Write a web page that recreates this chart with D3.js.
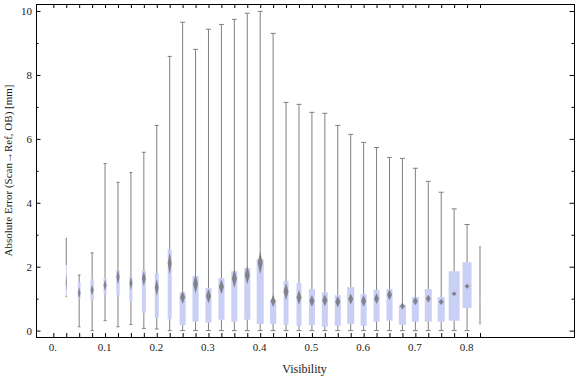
<!DOCTYPE html>
<html>
<head>
<meta charset="utf-8">
<script src="https://cdn.jsdelivr.net/npm/d3@7"></script>
<style>
  body { margin: 0; background: #fff; }
  text { font-family: "Liberation Serif", "Times New Roman", serif; }
</style>
</head>
<body>
<div id="chart"></div>
<script>
// visibility bins (box centres)
const visibility = [0.025, 0.05, 0.075, 0.1, 0.125, 0.15, 0.175, 0.2, 0.225, 0.25, 0.275,
  0.3, 0.325, 0.35, 0.375, 0.4, 0.425, 0.45, 0.475, 0.5, 0.525, 0.55, 0.575,
  0.6, 0.625, 0.65, 0.675, 0.7, 0.725, 0.75, 0.775, 0.8, 0.825];

// box-whisker statistics per bin [mm]
const whiskerLow = [1.06, 0.12, 0.00, 0.31, 0.12, 0.19, 0.07, 0.05, 0.00, 0.00, 0.00,
  0.00, 0.00, 0.00, 0.00, 0.00, 0.00, 0.00, 0.00, 0.00, 0.00, 0.00, 0.00,
  0.00, 0.00, 0.00, 0.00, 0.00, 0.00, 0.00, 0.00, 0.00, 0.21];
const quart1 = [1.10, 1.00, 0.95, 1.14, 1.11, 0.90, 0.56, 0.40, 0.36, 0.18, 0.28,
  0.25, 0.34, 0.28, 0.34, 0.21, 0.21, 0.18, 0.15, 0.18, 0.12, 0.15, 0.21,
  0.15, 0.28, 0.31, 0.18, 0.28, 0.28, 0.28, 0.31, 0.71, 0.87];
const median = [1.50, 1.18, 1.27, 1.42, 1.68, 1.48, 1.63, 1.35, 2.10, 1.04, 1.46,
  1.08, 1.37, 1.63, 1.74, 2.12, 0.93, 1.22, 1.04, 0.93, 0.95, 0.90, 0.99,
  0.93, 1.00, 1.12, 0.77, 0.92, 1.00, 0.90, 1.15, 1.39, 0.94];
const quart3 = [2.05, 1.52, 1.61, 1.64, 1.89, 1.70, 1.89, 1.80, 2.54, 1.20, 1.71,
  1.33, 1.64, 1.86, 1.96, 2.24, 0.95, 1.55, 1.49, 1.30, 1.20, 1.11, 1.36,
  1.14, 1.27, 1.30, 0.80, 1.05, 1.30, 1.05, 1.86, 2.14, 1.00];
const whiskerHigh = [2.89, 1.74, 2.43, 5.23, 4.64, 4.95, 5.58, 6.42, 8.58, 9.65, 8.80,
  9.43, 9.58, 9.74, 9.93, 9.99, 9.30, 7.14, 7.08, 6.83, 6.80, 6.42, 6.14,
  5.89, 5.73, 5.42, 5.39, 5.08, 4.67, 4.33, 3.81, 3.32, 2.63];
// relative sample weight (drives box width)
const sampleWeight = [0.09, 0.25, 0.30, 0.27, 0.30, 0.27, 0.36, 0.36, 0.36, 0.55, 0.55,
  0.55, 0.55, 0.55, 0.55, 0.64, 0.57, 0.45, 0.45, 0.55, 0.55, 0.55, 0.64,
  0.55, 0.55, 0.55, 0.64, 0.64, 0.64, 0.64, 1.00, 0.82, 0.09];
// half width of the median confidence diamond [mm]
const medianCI = [0.30, 0.18, 0.16, 0.18, 0.23, 0.21, 0.23, 0.26, 0.34, 0.21, 0.29,
  0.23, 0.23, 0.29, 0.29, 0.36, 0.19, 0.26, 0.23, 0.18, 0.19, 0.18, 0.17,
  0.18, 0.17, 0.17, 0.11, 0.13, 0.12, 0.10, 0.07, 0.08, 0.10];

const xLabelTicks = [0, 0.1, 0.2, 0.3, 0.4, 0.5, 0.6, 0.7, 0.8];
const yMajorTicks = [0, 2, 4, 6, 8, 10];
const yMinorTicks = [1, 3, 5, 7, 9];

const width = 576, height = 377;
const frame = { left: 36, right: 575, top: 4, bottom: 337 };

const svg = d3.select("#chart").append("svg")
  .attr("width", width)
  .attr("height", height);

const defs = svg.append("defs");
defs.append("filter").attr("id", "soft")
  .attr("x", "-80%").attr("y", "-50%").attr("width", "260%").attr("height", "200%")
  .append("feGaussianBlur").attr("stdDeviation", 0.5);

const x = d3.scaleLinear().domain([-0.0335, 1.0087]).range([frame.left, frame.right]);
const y = d3.scaleLinear().domain([-0.2, 10.22]).range([frame.bottom, frame.top]);
const w = d3.scaleLinear().domain([0, 1]).range([0, 11]);

const data = visibility.map((v, i) => ({
  v, lo: whiskerLow[i], q1: quart1[i], med: median[i], q3: quart3[i],
  hi: whiskerHigh[i], wt: sampleWeight[i], ci: medianCI[i]
}));

const g = svg.append("g");

// boxes
g.selectAll(".box").data(data).enter().append("rect")
  .attr("class", "box")
  .attr("x", d => x(d.v) - w(d.wt) / 2)
  .attr("width", d => w(d.wt))
  .attr("y", d => y(d.q3))
  .attr("height", d => y(d.q1) - y(d.q3))
  .attr("fill", "#c9cff5");

// whiskers
const whisk = g.selectAll(".whisk").data(data).enter().append("g").attr("class", "whisk")
  .attr("stroke", "#808080").attr("stroke-width", 1);
whisk.append("line")
  .attr("x1", d => x(d.v)).attr("x2", d => x(d.v))
  .attr("y1", d => y(d.q3)).attr("y2", d => y(d.hi));
whisk.append("line")
  .attr("x1", d => x(d.v)).attr("x2", d => x(d.v))
  .attr("y1", d => y(d.q1)).attr("y2", d => y(d.lo));
// caps
[d => d.hi, d => d.lo].forEach(acc => {
  whisk.append("line")
    .attr("x1", d => x(d.v) - Math.min(w(d.wt), 5) / 2)
    .attr("x2", d => x(d.v) + Math.min(w(d.wt), 5) / 2)
    .attr("y1", d => y(acc(d))).attr("y2", d => y(acc(d)));
});

// median diamonds (width follows the box, at most 5px)
g.selectAll(".med").data(data).enter().append("path")
  .attr("class", "med")
  .attr("d", d => {
    const cx = x(d.v), cy = y(d.med), dy = y(d.med - d.ci) - cy;
    const dx = Math.min(w(d.wt), 5) / 2;
    return `M${cx},${cy - dy}L${cx + dx},${cy}L${cx},${cy + dy}L${cx - dx},${cy}Z`;
  })
  .attr("fill", "#707070")
  .attr("opacity", 0.8)
  .attr("filter", "url(#soft)");

// frame
svg.append("rect")
  .attr("x", frame.left + 0.5).attr("y", frame.top + 0.5)
  .attr("width", frame.right - frame.left - 1).attr("height", frame.bottom - frame.top)
  .attr("fill", "none").attr("stroke", "#000").attr("stroke-width", 1);

const xTickVals = [0].concat(visibility);
const fmtX = d => d === 0 ? "0." : d3.format(".1f")(d);

function noDomain(sel) { sel.select(".domain").remove(); }

// bottom ticks + labels
svg.append("g").attr("transform", `translate(0,${frame.bottom})`)
  .call(d3.axisBottom(x).tickValues(xTickVals).tickSize(-4).tickFormat(""))
  .call(noDomain);
svg.append("g").attr("transform", `translate(0,${frame.bottom})`)
  .call(d3.axisBottom(x).tickValues(xLabelTicks).tickSize(0).tickPadding(6).tickFormat(fmtX))
  .call(noDomain)
  .call(s => s.selectAll("text").attr("font-size", 11).attr("fill", "#1a1a1a")
    .attr("font-family", "Liberation Serif").attr("dx", -1));
// top ticks
svg.append("g").attr("transform", `translate(0,${frame.top})`)
  .call(d3.axisTop(x).tickValues(xTickVals).tickSize(-4).tickFormat(""))
  .call(noDomain);

// left ticks + labels
svg.append("g").attr("transform", `translate(${frame.left},0)`)
  .call(d3.axisLeft(y).tickValues(yMajorTicks).tickSize(-4.5).tickPadding(4).tickFormat(d3.format("d")))
  .call(noDomain)
  .call(s => s.selectAll("text").attr("font-size", 11).attr("fill", "#1a1a1a")
    .attr("font-family", "Liberation Serif"));
svg.append("g").attr("transform", `translate(${frame.left},0)`)
  .call(d3.axisLeft(y).tickValues(yMinorTicks).tickSize(-2.5).tickFormat(""))
  .call(noDomain);
// right ticks
svg.append("g").attr("transform", `translate(${frame.right - 1},0)`)
  .call(d3.axisRight(y).tickValues(yMajorTicks).tickSize(-4.5).tickFormat(""))
  .call(noDomain);
svg.append("g").attr("transform", `translate(${frame.right - 1},0)`)
  .call(d3.axisRight(y).tickValues(yMinorTicks).tickSize(-2.5).tickFormat(""))
  .call(noDomain);

// axis titles
svg.append("text")
  .attr("x", (frame.left + frame.right) / 2 - 1)
  .attr("y", 373)
  .attr("text-anchor", "middle")
  .attr("font-size", 12)
  .attr("fill", "#1a1a1a")
  .text("Visibility");

svg.append("text")
  .attr("transform", `translate(11.5,${(frame.top + frame.bottom) / 2}) rotate(-90)`)
  .attr("text-anchor", "middle")
  .attr("font-size", 11)
  .attr("fill", "#1a1a1a")
  .text("Absolute Error (Scan\u2192Ref, OB) [mm]");
</script>
</body>
</html>
